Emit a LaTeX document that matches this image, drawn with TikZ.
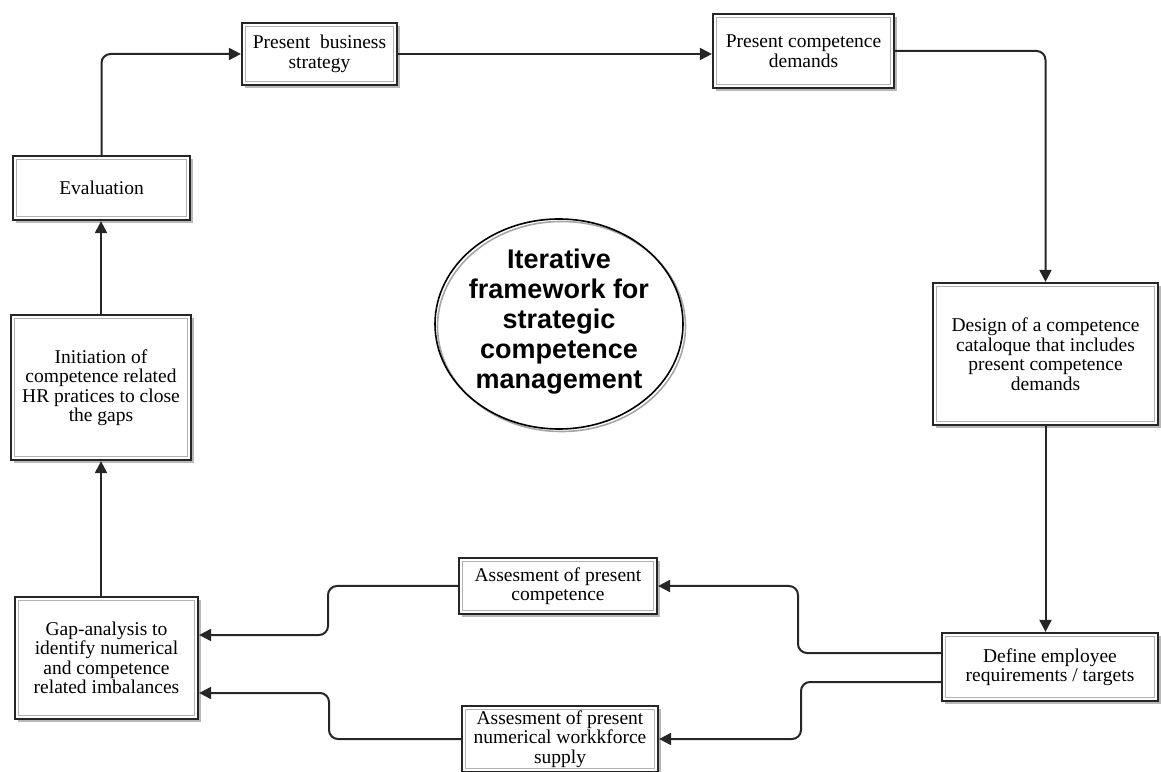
\documentclass[tikz,border=0pt]{standalone}
\usepackage{fontspec}
\setmainfont{Liberation Serif}
\newfontfamily\hubfont{Liberation Sans}
\usetikzlibrary{arrows.meta,shadows}
\tikzset{
  stepbox/.style={draw=black!85, line width=2.2pt, fill=white, align=center,
    inner sep=0pt, font=\fontsize{19.5}{19.5}\selectfont,
    drop shadow={shadow xshift=3pt, shadow yshift=-3pt, fill=black!28, opacity=1},
    path picture={\draw[black!30, line width=1.2pt]
      ([shift={(3.5pt,-3.5pt)}]path picture bounding box.north west) rectangle
      ([shift={(-3.5pt,3.5pt)}]path picture bounding box.south east);}},
  boxsize/.style 2 args={minimum width=#1, minimum height=#2},
  flow/.style={draw=black!85, line width=2pt, rounded corners=9pt,
    -{Triangle[length=12pt,width=12pt]}},
}
\begin{document}
\begin{tikzpicture}[x=1pt,y=1pt]
\useasboundingbox (0,0) rectangle (1161,771);
%% top row
\node[stepbox,boxsize={155pt}{62pt}] (strat) at (319.5,717) {Present\ \ business\\strategy};
\node[stepbox,boxsize={181pt}{74pt}] (demand) at (803.5,720) {Present competence\\demands};
%% right column
\node[stepbox,boxsize={225pt}{142pt}] (design) at (1045.5,417) {Design of a competence\\cataloque that includes\\present competence\\demands};
\node[stepbox,boxsize={216pt}{68pt}] (define) at (1050,104) {Define employee\\requirements / targets};
%% bottom row
\node[stepbox,boxsize={198pt}{56pt}] (asscomp) at (558,185) {Assesment of present\\competence};
\node[stepbox,boxsize={196pt}{66pt}] (assnum) at (560,32) {Assesment of present\\numerical workkforce\\supply};
%% left column
\node[stepbox,boxsize={183pt}{122pt}] (gap) at (106.5,113) {Gap-analysis to\\identify numerical\\and competence\\related imbalances};
\node[stepbox,boxsize={180pt}{145pt}] (init) at (101,383.5) {Initiation of\\competence related\\HR pratices to close\\the gaps};
\node[stepbox,boxsize={177pt}{64pt}] (eval) at (101.5,583) {Evaluation};
%% the hub
\draw[black!35, line width=1.6pt] (561.5,444.5) ellipse [x radius=124pt, y radius=105pt];
\draw[black, line width=1.6pt] (559,447) ellipse [x radius=124pt, y radius=105pt];
\node[align=center, inner sep=0pt, font=\hubfont\bfseries\fontsize{27}{30}\selectfont]
  (hub) at (559,449) {Iterative\\framework for\\strategic\\competence\\management};
%% bend points
\coordinate (jc) at (798,0);
\coordinate (jn) at (801,0);
\coordinate (kc) at (328,0);
\coordinate (kn) at (329,0);
\coordinate (dw1) at ([yshift=14pt]define.west);
\coordinate (dw2) at ([yshift=-15pt]define.west);
\coordinate (ge1) at ([yshift=23pt]gap.east);
\coordinate (ge2) at ([yshift=-35pt]gap.east);
%% the loop
\draw[flow] (eval.north) |- (strat.west);
\draw[flow] (strat.east) -- (strat.east -| demand.west);
\draw[flow] (demand.east) -| (design.north);
\draw[flow] (design.south) -- (design.south |- define.north);
\draw[flow] (dw1) -- (dw1 -| jc) |- (asscomp.east);
\draw[flow] (dw2) -- (dw2 -| jn) |- (assnum.east);
\draw[flow] (asscomp.west) -- (asscomp.west -| kc) |- (ge1);
\draw[flow] (assnum.west) -- (assnum.west -| kn) |- (ge2);
\draw[flow] (init.south |- gap.north) -- (init.south);
\draw[flow] (init.north) -- (init.north |- eval.south);
\end{tikzpicture}
\end{document}
